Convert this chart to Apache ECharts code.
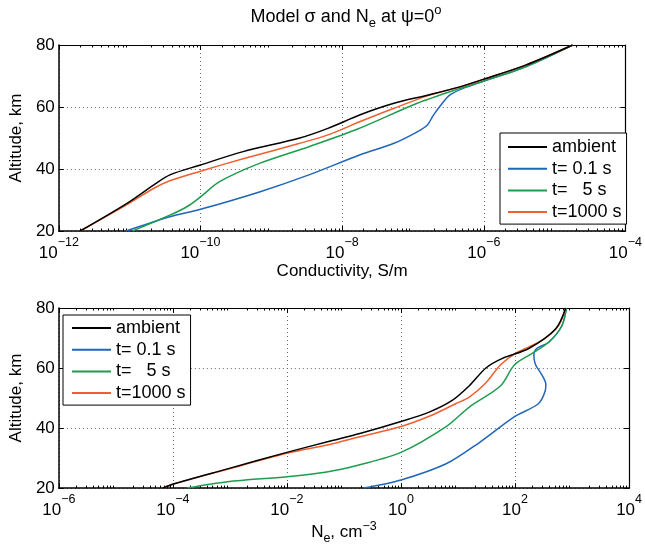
<!DOCTYPE html>
<html><head><meta charset="utf-8">
<script src="https://cdn.jsdelivr.net/npm/echarts@6/dist/echarts.min.js"></script>
<style>html,body{margin:0;padding:0;background:#fff}#c{width:645px;height:546px}</style>
</head><body><div id="c"></div>
<script>
// ---- data: conductivity (top panel) ----
const altSigAmbient = [20, 29.0, 34.9, 38.1, 41.3, 45.6, 49.9, 53.1, 57.5, 61.2, 63.8, 66.5, 68.9, 73.5, 80];
const sigAmbient = [2.0e-12, 9.3e-12, 2.2e-11, 3.7e-11, 1.0e-10, 4.0e-10, 2.45e-9, 6.3e-9, 1.8e-8, 5.4e-8, 1.6e-7, 4.6e-7, 9.8e-7, 3.9e-6, 1.8e-5];
const altSig01 = [20, 24.6, 27.0, 32.6, 38.1, 44.6, 48.3, 52.0, 54.2, 57.4, 61.2, 63.8, 66.0, 68.3, 73.0, 80];
const sig01 = [8.9e-12, 3.7e-11, 1.0e-10, 6.8e-10, 3.4e-9, 1.8e-8, 5.4e-8, 1.15e-7, 1.6e-7, 1.95e-7, 2.6e-7, 3.3e-7, 5.1e-7, 9.8e-7, 3.9e-6, 1.8e-5];
const altSig5 = [20, 25.1, 27.9, 31.0, 35.9, 41.8, 47.2, 52.9, 61.2, 66.0, 68.3, 73.0, 80];
const sig5 = [1.1e-11, 3.7e-11, 6.5e-11, 1.0e-10, 1.86e-10, 6.8e-10, 3.4e-9, 1.66e-8, 1.15e-7, 4.6e-7, 9.8e-7, 3.9e-6, 1.8e-5];
const altSig1000 = [20, 28.6, 33.8, 36.2, 39.3, 43.3, 48.2, 51.0, 55.3, 59.6, 63.6, 66.5, 68.9, 73.5, 80];
const sig1000 = [2.0e-12, 9.3e-12, 2.2e-11, 3.7e-11, 1.0e-10, 4.0e-10, 2.45e-9, 6.3e-9, 1.8e-8, 5.4e-8, 1.6e-7, 4.6e-7, 9.8e-7, 3.9e-6, 1.8e-5];

// ---- data: electron density (bottom panel) ----
const altNeAmbient = [20, 21.3, 26.4, 31.9, 35.7, 38.2, 42.2, 45.4, 49.2, 54.1, 60.0, 63.2, 66.5, 73.0, 80];
const neAmbient = [6.6e-5, 1.0e-4, 9.1e-4, 1.0e-2, 5.8e-2, 0.19, 1.0, 3.2, 7.9, 15.8, 30.9, 60, 174, 513, 776];
const altNe01 = [20, 22.7, 28.1, 35.1, 43.8, 48.1, 52.4, 54.6, 58.0, 61.1, 64.3, 66.5, 68.6, 74.0, 80];
const ne01 = [0.22, 1.0, 6.2, 23.4, 98, 257, 339, 347, 290, 229, 214, 240, 389, 661, 794];
const altNe5 = [20, 22.1, 23.8, 25.4, 27.8, 31.9, 40.5, 47.0, 54.1, 61.1, 64.9, 68.6, 74.0, 80];
const ne5 = [1.78e-4, 9.1e-4, 1.0e-2, 5.0e-2, 0.19, 1.0, 6.2, 15.8, 56, 98, 200, 389, 661, 794];
const altNe1000 = [20, 21.3, 26.3, 31.6, 34.6, 37.1, 40.5, 44.0, 48.1, 50.3, 55.1, 61.1, 64.9, 69.2, 74.0, 80];
const ne1000 = [6.6e-5, 1.0e-4, 9.1e-4, 1.0e-2, 5.8e-2, 0.19, 1.0, 3.2, 9.1, 15.8, 30.9, 56, 102, 295, 575, 776];

const seriesNames = ['ambient', 't= 0.1 s', 't=   5 s', 't=1000 s'];
const sigRange = [1e-12, 1e-4];
const neRange = [1e-6, 1e4];
const altRange = [20, 80];

const colors = ['#000000', '#1f66b9', '#1e9c4e', '#f0602e'];
const FONT = 'Liberation Sans, Arial, Helvetica, sans-serif';

function pairs(xs, ys) { return xs.map((x, i) => [x, ys[i]]); }
function minorTicks(lo, hi) {
  const out = [];
  for (let e = lo; e < hi; e++) for (let m = 2; m <= 9; m++) out.push(e + Math.log10(m));
  return out;
}
const richLbl = {
  b: { fontSize: 17, fontFamily: FONT, color: '#000', padding: [9, 0, 0, 0] },
  s: { fontSize: 12.5, fontFamily: FONT, color: '#000', verticalAlign: 'top' }
};
function logLabel(v) {
  const e = Math.round(Math.log10(v));
  return '{b|10}{s|' + (e < 0 ? '\u2212' + (-e) : e) + '}';
}

const grids = [
  { left: 57, right: 14, top: 45, height: 186 },
  { left: 57, right: 14, top: 308, height: 185 }
];

const xAxes = [], yAxes = [];
[[sigRange, 'Conductivity, S/m', -12, -4], [neRange, '{a|N}{sub|e}{a|, cm}{sup|\u22123}', -6, 4]].forEach((cfg, g) => {
  const [rng, name, lo, hi] = cfg;
  xAxes.push({
    type: 'log', logBase: 10, gridIndex: g, min: rng[0], max: rng[1], interval: 2, position: 'bottom',
    name: name, nameLocation: 'middle', nameGap: g === 0 ? 28 : 20,
    nameTextStyle: { fontSize: 17, fontFamily: FONT, color: '#000',
      rich: { a: { fontSize: 17, fontFamily: FONT, color: '#000', padding: [4, 0, 4, 0] },
              sub: { fontSize: 12.5, fontFamily: FONT, color: '#000', verticalAlign: 'bottom' },
              sup: { fontSize: 12.5, fontFamily: FONT, color: '#000', verticalAlign: 'top' } } },
    axisLine: { show: true, onZero: false, lineStyle: { color: '#000', width: 1.5 } },
    axisTick: { show: true, inside: true, length: 5, lineStyle: { color: '#000' } },
    splitLine: { show: true, lineStyle: { color: '#666', type: [1, 3], width: 1 } },
    axisLabel: { formatter: logLabel, rich: richLbl, margin: 5 }
  });
  xAxes.push({
    type: 'log', logBase: 10, gridIndex: g, min: rng[0], max: rng[1], interval: 2, position: 'top',
    axisLine: { show: true, onZero: false, lineStyle: { color: '#000', width: 1.2 } },
    axisTick: { show: true, inside: true, length: 5, lineStyle: { color: '#000' } },
    splitLine: { show: false }, axisLabel: { show: false }
  });
  ['bottom', 'top'].forEach(pos => {
    xAxes.push({
      type: 'value', gridIndex: g, min: lo, max: hi, position: pos,
      axisLine: { show: false }, splitLine: { show: false }, axisLabel: { show: false },
      axisTick: { show: true, inside: true, length: 2.5, customValues: minorTicks(lo, hi), lineStyle: { color: '#000' } }
    });
  });
  yAxes.push({
    type: 'value', gridIndex: g, min: altRange[0], max: altRange[1], interval: 20, position: 'left',
    name: 'Altitude, km', nameLocation: 'middle', nameGap: 25, nameRotate: 90,
    nameTextStyle: { fontSize: 17, fontFamily: FONT, color: '#000' },
    axisLine: { show: true, onZero: false, lineStyle: { color: '#000', width: 1.5 } },
    axisTick: { show: true, inside: true, length: 5, lineStyle: { color: '#000' } },
    splitLine: { show: true, lineStyle: { color: '#666', type: [1, 3], width: 1 } },
    axisLabel: { fontSize: 17, fontFamily: FONT, color: '#000', margin: 4 }
  });
  yAxes.push({
    type: 'value', gridIndex: g, min: altRange[0], max: altRange[1], interval: 20, position: 'right',
    axisLine: { show: true, onZero: false, lineStyle: { color: '#000', width: 1.2 } },
    axisTick: { show: true, inside: true, length: 5, lineStyle: { color: '#000' } },
    splitLine: { show: false }, axisLabel: { show: false }
  });
});

const topSets = [[sigAmbient, altSigAmbient], [sig01, altSig01], [sig5, altSig5], [sig1000, altSig1000]];
const botSets = [[neAmbient, altNeAmbient], [ne01, altNe01], [ne5, altNe5], [ne1000, altNe1000]];
const series = [];
[topSets, botSets].forEach((sets, g) => {
  sets.forEach((s, i) => {
    series.push({
      type: 'line', name: seriesNames[i], xAxisIndex: g * 4, yAxisIndex: g * 2,
      data: pairs(s[0], s[1]), symbol: 'none', smooth: 0.3,
      lineStyle: { color: colors[i], width: 1.5 }, itemStyle: { color: colors[i] },
      z: i === 0 ? 6 : 5
    });
  });
});

const legendBase = {
  orient: 'vertical', data: seriesNames, itemWidth: 39, itemHeight: 18, itemGap: 3.7,
  backgroundColor: '#fff', borderColor: '#000', borderWidth: 1,
  itemStyle: { color: 'rgba(0,0,0,0)', borderWidth: 0, opacity: 0 },
  textStyle: { fontSize: 18, fontFamily: FONT, color: '#000' }, selectedMode: false
};

const chart = echarts.init(document.getElementById('c'), null, { renderer: 'canvas' });
chart.setOption({
  animation: false,
  backgroundColor: '#fff',
  grid: grids,
  xAxis: xAxes,
  yAxis: yAxes,
  legend: [
    Object.assign({}, legendBase, { left: 500, top: 133, padding: [5, 5, 3, 7] }),
    Object.assign({}, legendBase, { left: 63, top: 315, padding: [4, 5, 3, 8] })
  ],
  graphic: [{
    type: 'text', x: 346, y: 17, z: 100,
    style: {
      text: '{a|Model \u03c3 and N}{sub|e}{a| at \u03c8=0}{sup|o}',
      align: 'center', verticalAlign: 'middle',
      rich: {
        a: { fontSize: 18, fontFamily: FONT, fill: '#000', padding: [4, 0, 4, 0] },
        sub: { fontSize: 13, fontFamily: FONT, fill: '#000', verticalAlign: 'bottom' },
        sup: { fontSize: 13, fontFamily: FONT, fill: '#000', verticalAlign: 'top' }
      }
    }
  }],
  series: series
});
</script>
</body></html>
